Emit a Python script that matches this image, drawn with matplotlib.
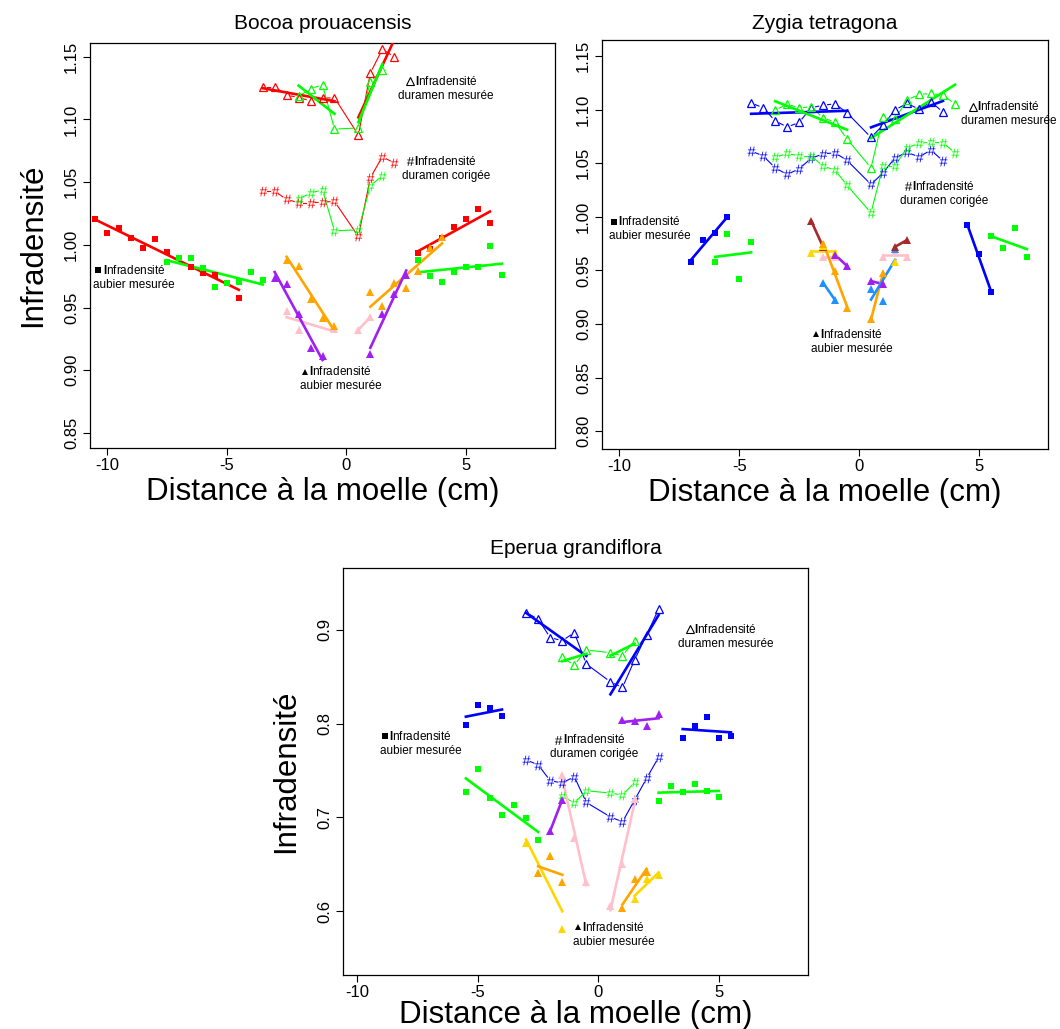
import numpy as np
import matplotlib
matplotlib.use("Agg")
import matplotlib.pyplot as plt
from matplotlib import transforms

plt.rcParams['font.family'] = ['Liberation Sans', 'DejaVu Sans']
plt.rcParams['mathtext.fontset'] = 'custom'
plt.rcParams['mathtext.rm'] = 'Liberation Sans'
plt.rcParams['mathtext.bf'] = 'Liberation Sans:bold'
plt.rcParams['axes.unicode_minus'] = False

# ======================
# 1. Data
# ======================
# --- Bocoa prouacensis ---
bp_dur_red_x = [-3.5, -3, -2.5, -2, -1.5, -1, -0.5, 0.5, 1, 1.5, 2]
bp_dur_red = [1.126, 1.126, 1.1196, 1.1174, 1.115, 1.117, 1.1174, 1.0876, 1.137, 1.156, 1.150]
bp_cor_red = [1.0427, 1.0427, 1.0363, 1.0336, 1.0336, 1.0341, 1.0347, 1.0067, 1.0535, 1.0703, 1.0653]
bp_dur_green_x = [-2, -1.5, -1, -0.5, 0.5, 1, 1.5]
bp_dur_green = [1.1185, 1.1244, 1.1278, 1.0924, 1.0932, 1.1302, 1.1395]
bp_cor_green = [1.0365, 1.0413, 1.0439, 1.0112, 1.012, 1.0471, 1.0551]

bp_sq_red_l_x = [-10.5, -10, -9.5, -9, -8.5, -8, -7.5, -7, -6.5, -6, -5.5, -4.5]
bp_sq_red_l = [1.0203, 1.0091, 1.0131, 1.0051, 0.9979, 1.0046, 0.9947, 0.9899, 0.9827, 0.9777, 0.9763, 0.958]
bp_sq_red_r_x = [3, 3.5, 4, 4.5, 5, 5.5, 6]
bp_sq_red_r = [0.9939, 0.9971, 1.0051, 1.0139, 1.0203, 1.0283, 1.0171]
bp_sq_green_l_x = [-7.5, -7, -6.5, -6, -5.5, -5, -4.5, -4, -3.5]
bp_sq_green_l = [0.9867, 0.9894, 0.9894, 0.9814, 0.9662, 0.9692, 0.9705, 0.978, 0.9716]
bp_sq_green_r_x = [3, 3.5, 4, 4.5, 5, 5.5, 6, 6.5]
bp_sq_green_r = [0.9883, 0.9748, 0.97, 0.9782, 0.9827, 0.9827, 0.9995, 0.9763]

bp_tri_orange_l_x = [-2.5, -2, -1.5, -1, -0.5]
bp_tri_orange_l = [0.988, 0.9835, 0.9566, 0.9417, 0.935]
bp_tri_purple_l_x = [-3, -2.5, -2, -1.5, -1]
bp_tri_purple_l = [0.9737, 0.9684, 0.9452, 0.9175, 0.9114]
bp_tri_pink_l_x = [-2.5, -2, -0.5]
bp_tri_pink_l = [0.9476, 0.9324, 0.9327]
bp_tri_pink_r_x = [0.5, 1]
bp_tri_pink_r = [0.9324, 0.9423]
bp_tri_orange_r_x = [1, 1.5, 2, 2.5, 3, 3.5, 4]
bp_tri_orange_r = [0.9622, 0.9513, 0.9692, 0.9654, 0.9792, 0.9979, 1.0064]
bp_tri_purple_r_x = [1, 1.5, 2, 2.5]
bp_tri_purple_r = [0.9127, 0.9452, 0.9612, 0.9758]

# --- Zygia tetragona ---
zt_dur_blue_x = [-4.5, -4, -3.5, -3, -2.5, -2, -1.5, -1, -0.5, 0.5, 1, 1.5, 2, 2.5, 3, 3.5]
zt_dur_blue = [1.1063, 1.1017, 1.0896, 1.0837, 1.0881, 1.1017, 1.1042, 1.1054, 1.097,
               1.0741, 1.0855, 1.0998, 1.1058, 1.1005, 1.1073, 1.0977]
zt_cor_blue = [1.0613, 1.0569, 1.0457, 1.0395, 1.0448, 1.0545, 1.0588, 1.0597, 1.0526,
               1.0302, 1.041, 1.055, 1.0601, 1.056, 1.0622, 1.0522]
zt_dur_green_x = [-3.5, -3, -2.5, -2, -1.5, -1, -0.5, 0.5, 1, 1.5, 2, 2.5, 3, 3.5, 4]
zt_dur_green = [1.0995, 1.1051, 1.1017, 1.1026, 1.0923, 1.0883, 1.0725,
                1.0457, 1.0927, 1.0914, 1.1089, 1.1142, 1.1151, 1.1135, 1.1054]
zt_cor_green = [1.0554, 1.0591, 1.0569, 1.0569, 1.0473, 1.0436, 1.0293,
                1.0037, 1.0476, 1.0476, 1.0644, 1.0685, 1.0697, 1.069, 1.0597]

zt_sq_blue_l_x = [-7, -6.5, -6, -5.5]
zt_sq_blue_l = [0.9575, 0.978, 0.9845, 0.9994]
zt_sq_green_l_x = [-6, -5.5, -5, -4.5]
zt_sq_green_l = [0.9575, 0.9836, 0.9416, 0.9761]
zt_sq_blue_r_x = [4.5, 5, 5.5]
zt_sq_blue_r = [0.9923, 0.9649, 0.9295]
zt_sq_green_r_x = [5.5, 6, 6.5, 7]
zt_sq_green_r = [0.9817, 0.9705, 0.9892, 0.9621]

zt_tri_brown_l_x = [-2, -1.5]
zt_tri_brown_l = [0.9963, 0.972]
zt_tri_gold_l_x = [-2, -1.5, -1]
zt_tri_gold_l = [0.966, 0.973, 0.966]
zt_tri_pink_l_x = [-1.5, -1]
zt_tri_pink_l = [0.9625, 0.9625]
zt_tri_orange_l_x = [-1.5, -1, -0.5]
zt_tri_orange_l = [0.9743, 0.9496, 0.9145]
zt_tri_purple_l_x = [-1, -0.5]
zt_tri_purple_l = [0.9646, 0.954]
zt_tri_dodger_l_x = [-1.5, -1]
zt_tri_dodger_l = [0.9384, 0.9223]
zt_tri_purple_r_x = [0.5, 1]
zt_tri_purple_r = [0.94, 0.9372]
zt_tri_dodger_r_x = [0.5, 1, 1.5]
zt_tri_dodger_r = [0.9326, 0.9216, 0.9696]
zt_tri_orange_r_x = [0.5, 1]
zt_tri_orange_r = [0.9043, 0.9472]
zt_tri_gold_r_x = [1.5]
zt_tri_gold_r = [0.9575]
zt_tri_pink_r_x = [1, 1.5, 2]
zt_tri_pink_r = [0.9627, 0.967, 0.9627]
zt_tri_brown_r_x = [1.5, 2]
zt_tri_brown_r = [0.972, 0.9783]

# --- Eperua grandiflora ---
eg_dur_blue_x = [-3, -2.5, -2, -1.5, -1, -0.5, 0.5, 1, 1.5, 2, 2.5]
eg_dur_blue = [0.9185, 0.9115, 0.8918, 0.8885, 0.8971, 0.8636, 0.8446, 0.8386, 0.8678, 0.8946, 0.9222]
eg_cor_blue = [0.7614, 0.7561, 0.7392, 0.7368, 0.7435, 0.716, 0.7006, 0.6953, 0.7185, 0.7417, 0.7642]
eg_dur_green_x = [-1.5, -1, -0.5, 0.5, 1, 1.5]
eg_dur_green = [0.8707, 0.8625, 0.8786, 0.8757, 0.8725, 0.8885]
eg_cor_green = [0.7232, 0.7153, 0.7285, 0.726, 0.7239, 0.7374]

eg_sq_blue_l_x = [-5.5, -5, -4.5, -4]
eg_sq_blue_l = [0.799, 0.8204, 0.8171, 0.8086]
eg_sq_blue_r_x = [3.5, 4, 4.5, 5, 5.5]
eg_sq_blue_r = [0.785, 0.7979, 0.8075, 0.785, 0.7871]
eg_sq_green_l_x = [-5.5, -5, -4.5, -4, -3.5, -3, -2.5]
eg_sq_green_l = [0.7274, 0.7518, 0.7207, 0.7028, 0.7132, 0.6999, 0.6757]
eg_sq_green_r_x = [2.5, 3, 3.5, 4, 4.5, 5]
eg_sq_green_r = [0.7178, 0.7335, 0.7271, 0.7357, 0.7282, 0.7218]

eg_tri_purple_r_x = [1, 1.5, 2, 2.5]
eg_tri_purple_r = [0.8043, 0.8028, 0.7971, 0.8107]
eg_tri_purple_l_x = [-2, -1.5]
eg_tri_purple_l = [0.6857, 0.7189]
eg_tri_pink_l_x = [-1.5, -1, -0.5]
eg_tri_pink_l = [0.7453, 0.6778, 0.6313]
eg_tri_pink_r_x = [0.5, 1, 1.5]
eg_tri_pink_r = [0.6053, 0.65, 0.7196]
eg_tri_gold_l_x = [-3, -2.5, -2, -1.5]
eg_tri_gold_l = [0.6725, 0.6403, 0.6585, 0.5814]
eg_tri_orange_l_x = [-2.5, -2, -1.5]
eg_tri_orange_l = [0.6403, 0.6585, 0.6313]
eg_tri_orange_r_x = [1, 1.5, 2]
eg_tri_orange_r = [0.6034, 0.6339, 0.6414]
eg_tri_gold_r_x = [1.5, 2, 2.5]
eg_tri_gold_r = [0.6135, 0.6345, 0.6385]

RED, GREEN, BLUE = '#FF0000', '#00FF00', '#0000FF'
ORANGE, PURPLE, PINK = '#FFA500', '#A020F0', '#FFC0CB'
BROWN, DODGER, GOLD = '#A52A2A', '#1E90FF', '#FFD700'

# ======================
# 2. Helpers
# ======================
def fit(ax, x, y, c):
    # least squares line over the range of the points
    if len(x) < 2:
        return
    k, b = np.polyfit(x, y, 1)
    xx = np.array([min(x), max(x)])
    ax.plot(xx, k * xx + b, color=c, lw=1.9, zorder=3)

def gapline(ax, x, y, c, gap=4.5):
    # thin R "type='b'" line: segments stop short of the points
    p = ax.transData.transform(np.column_stack([x, y]))
    inv = ax.transData.inverted()
    for a, b in zip(p[:-1], p[1:]):
        d = b - a
        L = np.hypot(*d)
        if L <= 2 * gap + 1:
            continue
        u = d / L
        s = inv.transform(np.array([a + u * gap, b - u * gap]))
        ax.plot(s[:, 0], s[:, 1], color=c, lw=0.8, zorder=2)

def points(ax, x, y, c, kind):
    if kind == 'sq':
        ax.plot(x, y, 's', color=c, ms=5, mew=0, zorder=4)
    elif kind == 'tri':
        ax.plot(x, y, '^', color=c, ms=6, mew=0, zorder=4)
    elif kind == 'otri':
        ax.plot(x, y, '^', mfc='none', mec=c, ms=5.8, mew=0.9, zorder=4)
    else:
        ax.plot(x, y, ls='none', marker=r'$\#$', color=c, ms=7, mew=0, zorder=4)

def duramen(ax, x, ydur, ycor, c):
    x = np.array(x)
    gapline(ax, x, ydur, c)
    gapline(ax, x, ycor, c)
    points(ax, x, ydur, c, 'otri')
    points(ax, x, ycor, c, 'hash')
    ydur = np.array(ydur)
    fit(ax, x[x < 0], ydur[x < 0], c)
    fit(ax, x[x > 0], ydur[x > 0], c)

def group(ax, x, y, c, kind):
    fit(ax, x, y, c)
    points(ax, x, y, c, kind)

def label(ax, x, y, kind, line2):
    fig = ax.figure
    tm = transforms.offset_copy(ax.transData, fig=fig, x=-36, y=0, units='dots')
    if kind == 'sq':
        ax.plot([x], [y], 's', color='black', ms=4.2, mew=0, transform=tm, clip_on=False)
    elif kind == 'tri':
        ax.plot([x], [y], '^', color='black', ms=5, mew=0, transform=tm, clip_on=False)
    elif kind == 'otri':
        ax.plot([x], [y], '^', mfc='none', mec='black', ms=5.2, mew=0.8, transform=tm, clip_on=False)
    else:
        ax.plot([x], [y], ls='none', marker=r'$\#$', color='black', ms=6.5, mew=0,
                transform=tm, clip_on=False)
    ax.text(x, y, r'$\mathbf{I}$nfradensité', fontsize=8.5, ha='center', va='center')
    t2 = transforms.offset_copy(ax.transData, fig=fig, x=0, y=-14.5, units='dots')
    ax.text(x, y, line2, fontsize=8.5, ha='center', va='center', transform=t2)

def style(ax, title, xlim, ylim, yticks, yfmt, ylabel=True, xpad=3, tpad=10):
    ax.set_xlim(*xlim)
    ax.set_ylim(*ylim)
    ax.set_xticks([-10, -5, 0, 5])
    ax.set_xticklabels(['-10', '-5', '0', '5'])
    ax.set_yticks(yticks)
    ax.set_yticklabels([yfmt.format(v) for v in yticks], rotation=90, va='center')
    ax.tick_params(direction='out', length=5, width=0.8, labelsize=12)
    ax.tick_params(axis='x', pad=2)
    ax.tick_params(axis='y', pad=3)
    for s in ax.spines.values():
        s.set_linewidth(0.9)
    ax.set_title(title, fontsize=15, pad=tpad)
    ax.set_xlabel('Distance à la moelle (cm)', fontsize=22.5, labelpad=xpad)
    if ylabel:
        ax.set_ylabel('Infradensité', fontsize=22.5, labelpad=11)

# ======================
# 3. Figure
# ======================
fig = plt.figure(figsize=(10.6, 10.29), dpi=100)
W, H = 1060, 1029

def box(l, t, r, b):
    return fig.add_axes([l / W, 1 - b / H, (r - l) / W, (b - t) / H])

# Bocoa prouacensis
ax1 = box(90, 43, 555, 448)
style(ax1, 'Bocoa prouacensis', (-10.72, 8.72), (0.838, 1.161),
      [0.85, 0.90, 0.95, 1.00, 1.05, 1.10, 1.15], '{:.2f}')
duramen(ax1, bp_dur_red_x, bp_dur_red, bp_cor_red, RED)
duramen(ax1, bp_dur_green_x, bp_dur_green, bp_cor_green, GREEN)
group(ax1, bp_sq_red_l_x, bp_sq_red_l, RED, 'sq')
group(ax1, bp_sq_green_l_x, bp_sq_green_l, GREEN, 'sq')
group(ax1, bp_sq_red_r_x, bp_sq_red_r, RED, 'sq')
group(ax1, bp_sq_green_r_x, bp_sq_green_r, GREEN, 'sq')
group(ax1, bp_tri_pink_l_x, bp_tri_pink_l, PINK, 'tri')
group(ax1, bp_tri_orange_l_x, bp_tri_orange_l, ORANGE, 'tri')
group(ax1, bp_tri_purple_l_x, bp_tri_purple_l, PURPLE, 'tri')
group(ax1, bp_tri_pink_r_x, bp_tri_pink_r, PINK, 'tri')
group(ax1, bp_tri_orange_r_x, bp_tri_orange_r, ORANGE, 'tri')
group(ax1, bp_tri_purple_r_x, bp_tri_purple_r, PURPLE, 'tri')
label(ax1, -8.875, 0.9798, 'sq', 'aubier mesurée')
label(ax1, -0.23, 0.8989, 'tri', 'aubier mesurée')
label(ax1, 4.17, 1.1305, 'otri', 'duramen mesurée')
label(ax1, 4.15, 1.0666, 'hash', 'duramen corigée')

# Zygia tetragona
ax2 = box(602, 40, 1048, 449)
style(ax2, 'Zygia tetragona', (-10.72, 7.88), (0.7833, 1.165),
      [0.80, 0.85, 0.90, 0.95, 1.00, 1.05, 1.10, 1.15], '{:.2f}', ylabel=False, tpad=7.8)
duramen(ax2, zt_dur_blue_x, zt_dur_blue, zt_cor_blue, BLUE)
duramen(ax2, zt_dur_green_x, zt_dur_green, zt_cor_green, GREEN)
group(ax2, zt_sq_blue_l_x, zt_sq_blue_l, BLUE, 'sq')
group(ax2, zt_sq_green_l_x, zt_sq_green_l, GREEN, 'sq')
group(ax2, zt_sq_blue_r_x, zt_sq_blue_r, BLUE, 'sq')
group(ax2, zt_sq_green_r_x, zt_sq_green_r, GREEN, 'sq')
group(ax2, zt_tri_brown_l_x, zt_tri_brown_l, BROWN, 'tri')
group(ax2, zt_tri_gold_l_x, zt_tri_gold_l, GOLD, 'tri')
group(ax2, zt_tri_pink_l_x, zt_tri_pink_l, PINK, 'tri')
group(ax2, zt_tri_orange_l_x, zt_tri_orange_l, ORANGE, 'tri')
group(ax2, zt_tri_purple_l_x, zt_tri_purple_l, PURPLE, 'tri')
group(ax2, zt_tri_dodger_l_x, zt_tri_dodger_l, DODGER, 'tri')
group(ax2, zt_tri_gold_r_x, zt_tri_gold_r, GOLD, 'tri')
group(ax2, zt_tri_pink_r_x, zt_tri_pink_r, PINK, 'tri')
group(ax2, zt_tri_purple_r_x, zt_tri_purple_r, PURPLE, 'tri')
group(ax2, zt_tri_orange_r_x, zt_tri_orange_r, ORANGE, 'tri')
group(ax2, zt_tri_dodger_r_x, zt_tri_dodger_r, DODGER, 'tri')
group(ax2, zt_tri_brown_r_x, zt_tri_brown_r, BROWN, 'tri')
label(ax2, -8.73, 0.9953, 'sq', 'aubier mesurée')
label(ax2, -0.30, 0.8906, 'tri', 'aubier mesurée')
label(ax2, 6.25, 1.1026, 'otri', 'duramen mesurée')
label(ax2, 3.53, 1.0286, 'hash', 'duramen corigée')

# Eperua grandiflora
ax3 = box(343, 568, 808, 975)
style(ax3, 'Eperua grandiflora', (-10.6, 8.7), (0.532, 0.966),
      [0.6, 0.7, 0.8, 0.9], '{:.1f}', xpad=0)
duramen(ax3, eg_dur_blue_x, eg_dur_blue, eg_cor_blue, BLUE)
duramen(ax3, eg_dur_green_x, eg_dur_green, eg_cor_green, GREEN)
group(ax3, eg_sq_blue_l_x, eg_sq_blue_l, BLUE, 'sq')
group(ax3, eg_sq_blue_r_x, eg_sq_blue_r, BLUE, 'sq')
group(ax3, eg_sq_green_l_x, eg_sq_green_l, GREEN, 'sq')
group(ax3, eg_sq_green_r_x, eg_sq_green_r, GREEN, 'sq')
group(ax3, eg_tri_purple_r_x, eg_tri_purple_r, PURPLE, 'tri')
group(ax3, eg_tri_gold_l_x, eg_tri_gold_l, GOLD, 'tri')
group(ax3, eg_tri_orange_l_x, eg_tri_orange_l, ORANGE, 'tri')
group(ax3, eg_tri_purple_l_x, eg_tri_purple_l, PURPLE, 'tri')
group(ax3, eg_tri_pink_l_x, eg_tri_pink_l, PINK, 'tri')
group(ax3, eg_tri_pink_r_x, eg_tri_pink_r, PINK, 'tri')
group(ax3, eg_tri_orange_r_x, eg_tri_orange_r, ORANGE, 'tri')
group(ax3, eg_tri_gold_r_x, eg_tri_gold_r, GOLD, 'tri')
label(ax3, -7.37, 0.7867, 'sq', 'aubier mesurée')
label(ax3, -0.17, 0.7829, 'hash', 'duramen corigée')
label(ax3, 5.29, 0.9008, 'otri', 'duramen mesurée')
label(ax3, 0.64, 0.5827, 'tri', 'aubier mesurée')

fig.savefig('out.png', dpi=100)
